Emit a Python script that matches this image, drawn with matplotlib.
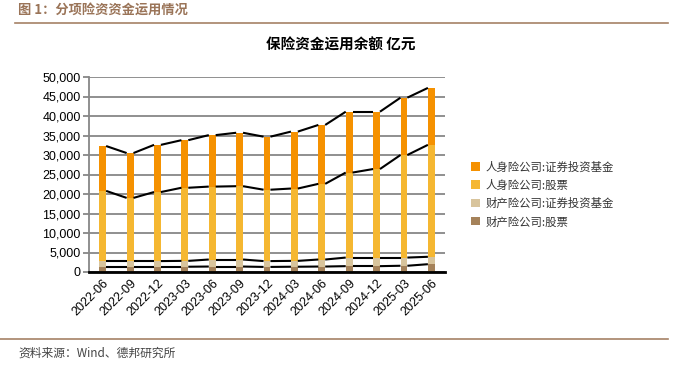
import matplotlib.pyplot as plt
import numpy as np
from matplotlib.ticker import FuncFormatter

plt.rcParams['font.family'] = ['Noto Sans CJK SC', 'DejaVu Sans']

quarters = ['2022-06', '2022-09', '2022-12', '2023-03', '2023-06', '2023-09', '2023-12',
            '2024-03', '2024-06', '2024-09', '2024-12', '2025-03', '2025-06']
# 亿元, stacked bottom to top
prop_stock = [1350, 1350, 1350, 1350, 1400, 1400, 1300, 1350, 1400, 1500, 1500, 1600, 2000]
prop_fund = [1450, 1450, 1450, 1500, 1800, 1800, 1500, 1500, 1800, 2200, 2200, 2100, 1900]
life_stock = [18000, 16200, 17700, 18750, 18700, 18800, 18300, 18550, 19400, 21800, 22700, 26300, 28700]
life_fund = [11500, 11500, 12100, 12200, 13200, 13700, 13600, 14600, 15100, 15600, 14700, 14700, 14600]

series = [
    ('财产险公司:股票', prop_stock, '#A5825A'),
    ('财产险公司:证券投资基金', prop_fund, '#D8C49C'),
    ('人身险公司:股票', life_stock, '#F5B731'),
    ('人身险公司:证券投资基金', life_fund, '#F59100'),
]

fig = plt.figure(figsize=(6.76, 3.65), dpi=100)
ax = fig.add_axes([89 / 676, 1 - 272 / 365, 356 / 676, 195 / 365])

x = np.arange(len(quarters))
w = 0.25
bottom = np.zeros(len(quarters))
handles = []
for label, vals, color in series:
    b = ax.bar(x, vals, w, bottom=bottom, color=color, label=label, zorder=3)
    handles.append(b)
    bottom = bottom + np.array(vals)
    # series lines between bar tops
    for i in range(len(x) - 1):
        ax.plot([x[i] + w / 2, x[i + 1] - w / 2], [bottom[i], bottom[i + 1]],
                color='black', lw=1.5, zorder=4, solid_capstyle='butt')

ax.set_xlim(-0.5, len(quarters) - 0.5)
ax.set_ylim(0, 50000)
ax.set_yticks(np.arange(0, 50001, 5000))
ax.yaxis.set_major_formatter(FuncFormatter(lambda v, p: f'{int(v):,}'))
ax.grid(axis='y', color='#878787', lw=1.3, zorder=0)
ax.set_xticks(x)
ax.set_xticklabels(quarters, rotation=45, ha='right', rotation_mode='anchor',
                   fontsize=9, family='Liberation Sans')
for lab in ax.get_yticklabels():
    lab.set_family('Liberation Sans')
ax.tick_params(axis='y', labelsize=9, color='#878787', length=4, width=1.3, pad=2)
ax.tick_params(axis='x', length=0, pad=4)
for s in ['top', 'right']:
    ax.spines[s].set_visible(False)
ax.spines['left'].set_color('#878787')
ax.spines['left'].set_linewidth(1.3)
ax.spines['bottom'].set_color('black')
ax.spines['bottom'].set_linewidth(2)
ax.spines['bottom'].set_zorder(5)

fig.legend(handles[::-1], [s[0] for s in series][::-1], loc='upper left',
           bbox_to_anchor=(461 / 676, 1 - 151 / 365), frameon=False, fontsize=8.2,
           handlelength=0.75, handleheight=0.75, handletextpad=0.5, labelspacing=0.62,
           labelcolor='#333333')

fig.text(341 / 676, 1 - 45 / 365, '保险资金运用余额 亿元', ha='center', va='center',
         fontsize=10.5, fontweight='bold')
fig.text(18 / 676, 1 - 10 / 365, '图 1：分项险资资金运用情况', ha='left', va='center',
         fontsize=9.5, fontweight='bold', color='#9A7458')
fig.add_artist(plt.Line2D([15 / 676, 668 / 676], [1 - 23 / 365] * 2, color='#A58266', lw=1.2))
fig.add_artist(plt.Line2D([0, 668 / 676], [1 - 339 / 365] * 2, color='#A58266', lw=1.2))
fig.text(18 / 676, 1 - 353 / 365, '资料来源：Wind、德邦研究所', ha='left', va='center',
         fontsize=8.5, color='#444444')

fig.savefig('out.png', dpi=100)
